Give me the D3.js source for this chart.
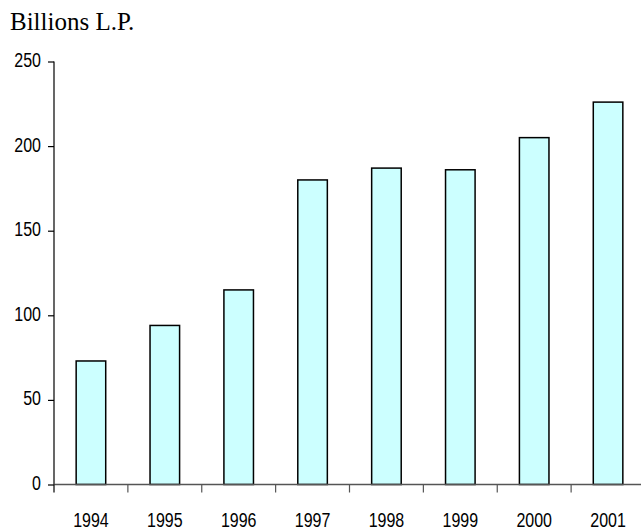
<!DOCTYPE html>
<html>
<head>
<meta charset="utf-8">
<script src="https://cdn.jsdelivr.net/npm/d3@7"></script>
<style>
  html, body { margin: 0; padding: 0; background: #fff; }
  svg { display: block; }
</style>
</head>
<body>
<svg id="chart" width="641" height="531"></svg>
<script>
// Annual values, billions of Lebanese pounds
const years = ["1994", "1995", "1996", "1997", "1998", "1999", "2000", "2001"];
const values = [73, 94, 115, 180, 187, 186, 205, 226];
const yTicks = [0, 50, 100, 150, 200, 250];
const unitLabel = "Billions L.P.";

const svg = d3.select("#chart");
// Condensed sans look for the axis numbers: regular sans squeezed horizontally
const axisFont = "'Liberation Sans', Arial, sans-serif";
const squeeze = 0.8;

const x = d3.scaleBand().domain(years).range([54, 645]).paddingInner(0.6).paddingOuter(0.3);
const xEdges = d3.scaleBand().domain(years).range([54, 645]).padding(0);
const y = d3.scaleLinear().domain([0, 250]).range([484.5, 61.5]);

// Unit label
svg.append("text")
  .attr("x", 10).attr("y", 30)
  .attr("font-family", "'Liberation Serif', 'Times New Roman', serif")
  .attr("font-size", 25)
  .attr("fill", "#000")
  .text(unitLabel);

// Bars
svg.append("g").selectAll("rect")
  .data(years.map((yr, i) => ({ yr, v: values[i] })))
  .join("rect")
  .attr("x", d => x(d.yr))
  .attr("width", x.bandwidth())
  .attr("y", d => y(d.v))
  .attr("height", d => y(0) - y(d.v))
  .attr("fill", "#ccffff")
  .attr("stroke", "#000")
  .attr("stroke-width", 1.5);

// Y axis
const yAxis = svg.append("g")
  .attr("transform", "translate(54,0)")
  .call(d3.axisLeft(y).tickValues(yTicks).tickSize(6).tickPadding(6).tickFormat(d3.format("d")));
yAxis.select(".domain").attr("stroke", "#000").attr("stroke-width", 1.2).attr("d", `M0,${y(250)}V${y(0)}`);
yAxis.selectAll(".tick line").attr("stroke", "#000").attr("stroke-width", 1.2);
yAxis.selectAll(".tick text")
  .attr("x", 0)
  .attr("dy", "0.25em")
  .attr("transform", `translate(-13,0) scale(${squeeze},1)`)
  .attr("font-family", axisFont).attr("font-size", 20).attr("fill", "#000");

// X axis: baseline with ticks at the band boundaries
const xg = svg.append("g");
xg.append("line")
  .attr("x1", 54).attr("x2", 641)
  .attr("y1", y(0)).attr("y2", y(0))
  .attr("stroke", "#555").attr("stroke-width", 1.5);
xg.selectAll("line.tk")
  .data(years.slice(1))
  .join("line")
  .attr("class", "tk")
  .attr("x1", d => xEdges(d)).attr("x2", d => xEdges(d))
  .attr("y1", y(0)).attr("y2", y(0) + 8)
  .attr("stroke", "#555").attr("stroke-width", 1.2);
xg.append("line")
  .attr("x1", 54).attr("x2", 54)
  .attr("y1", y(0)).attr("y2", y(0) + 8)
  .attr("stroke", "#000").attr("stroke-width", 1.2);
xg.selectAll("text")
  .data(years)
  .join("text")
  .attr("transform", d => `translate(${x(d) + x.bandwidth() / 2},527) scale(${squeeze},1)`)
  .attr("text-anchor", "middle")
  .attr("font-family", axisFont).attr("font-size", 20).attr("fill", "#000")
  .text(d => d);
</script>
</body>
</html>
